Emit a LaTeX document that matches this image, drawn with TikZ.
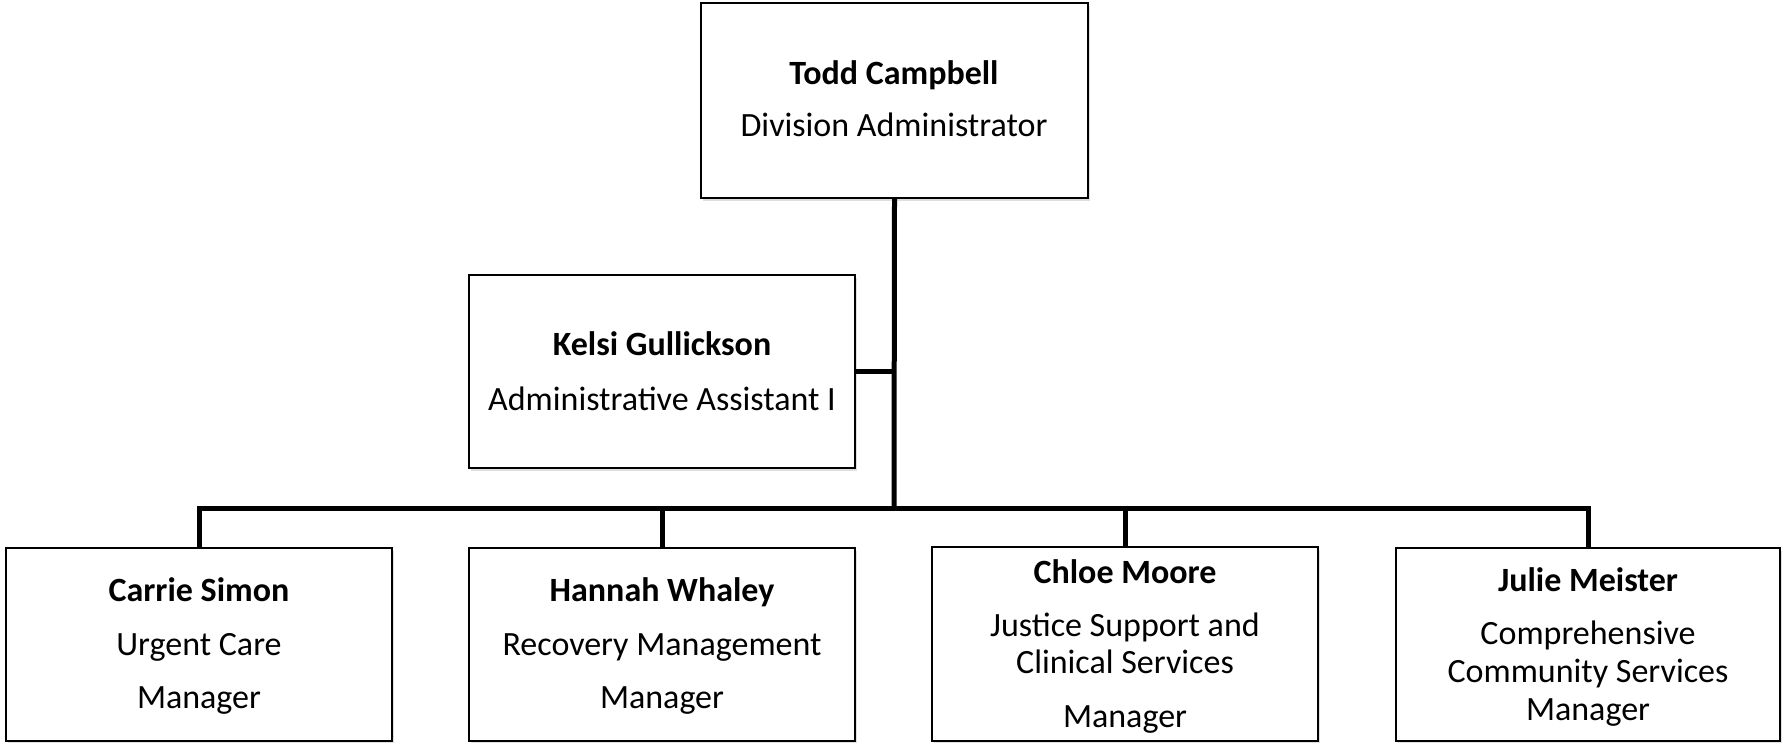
\documentclass[tikz,border=0pt]{standalone}
\usepackage{fontspec}
\setmainfont{Carlito}
\usetikzlibrary{shadows}
\begin{document}
\begin{tikzpicture}[x=1pt,y=-1pt,
  box/.style={draw=black, line width=1.6pt, fill=white, inner sep=0pt,
    drop shadow={opacity=0.25, shadow xshift=1.5pt, shadow yshift=-2.5pt}},
  conn/.style={draw=black, line width=5pt},
  lbl/.style={anchor=base, inner sep=0pt, font=\fontsize{34}{40}\selectfont},
  nm/.style={lbl, font=\fontsize{34}{40}\selectfont\bfseries}]
\useasboundingbox (0,0) rectangle (1782,742);
% boxes
\node[box, minimum width=387pt, minimum height=195pt] (top) at (894.5,100.5) {};
\node[box, minimum width=386pt, minimum height=193pt] (kelsi) at (662,371.5) {};
\node[box, minimum width=386pt, minimum height=193pt] (carrie) at (199,644.5) {};
\node[box, minimum width=386pt, minimum height=193pt] (hannah) at (662,644.5) {};
\node[box, minimum width=386pt, minimum height=194pt] (chloe) at (1125,644) {};
\node[box, minimum width=384pt, minimum height=193pt] (julie) at (1588,644.5) {};
% connectors
\coordinate (bus) at (894,508);
\draw[conn] (top.south) -- (bus);
\draw[conn] (kelsi.east) -- (kelsi.east -| top.south);
\draw[conn] (carrie.north) -- (carrie.north |- bus) -- (julie.north |- bus) -- (julie.north);
\draw[conn] (hannah.north) -- (hannah.north |- bus);
\draw[conn] (chloe.north) -- (chloe.north |- bus);
% texts
\node[nm] (t1) at (894,84) {Todd Campbell};
\node[lbl] (t2) at (894,136) {Division Administrator};
\node[nm] (k1) at (662,355) {Kelsi Gullickson};
\node[lbl] (k2) at (662,410) {Administrative Assistant I};
\node[nm] (c1) at (199,601) {Carrie Simon};
\node[lbl] (c2) at (199,655) {Urgent Care};
\node[lbl] (c3) at (199,708) {Manager};
\node[nm] (h1) at (662,601) {Hannah Whaley};
\node[lbl] (h2) at (662,655) {Recovery Management};
\node[lbl] (h3) at (662,708) {Manager};
\node[nm] (m1) at (1125,583) {Chloe Moore};
\node[lbl] (m2) at (1125,636) {Justice Support and};
\node[lbl] (m3) at (1125,673) {Clinical Services};
\node[lbl] (m4) at (1125,727) {Manager};
\node[nm] (j1) at (1588,591) {Julie Meister};
\node[lbl] (j2) at (1588,644) {Comprehensive};
\node[lbl] (j3) at (1588,682) {Community Services};
\node[lbl] (j4) at (1588,720) {Manager};
\end{tikzpicture}
\end{document}
